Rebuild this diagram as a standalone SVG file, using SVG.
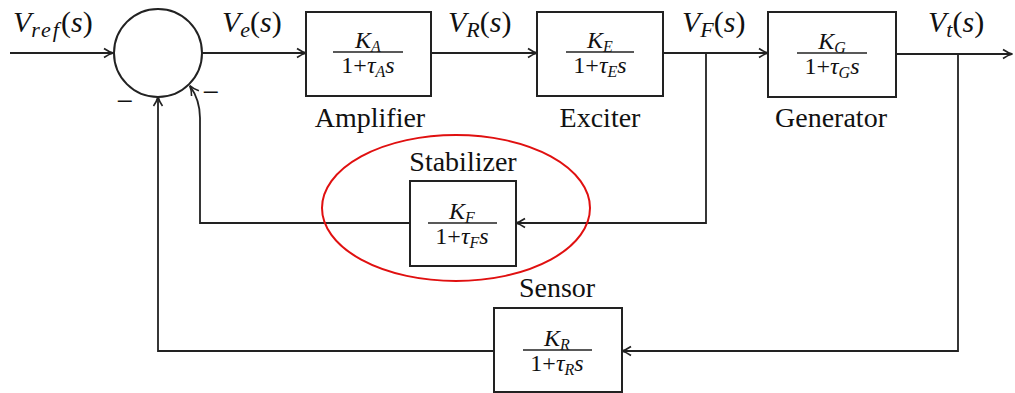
<svg xmlns="http://www.w3.org/2000/svg" width="1015" height="393" viewBox="0 0 1015 393" font-family="Liberation Serif, DejaVu Serif, serif">
<style>
.box{fill:#fff;stroke:#222;stroke-width:2}
.ln{fill:none;stroke:#222;stroke-width:1.8}
text{fill:#111}
.lbl{font-size:28px;text-anchor:middle}
.sig{font-size:30px}
.frac{font-size:24px;text-anchor:middle}
.i{font-style:italic}
.sub{font-size:16px;font-style:italic}
.ss{font-size:22px;font-style:italic}
.fl{stroke:#222;stroke-width:1.4}
</style>
<defs>
<marker id="ar" markerWidth="12" markerHeight="12" refX="10" refY="6" orient="auto" markerUnits="userSpaceOnUse">
<path d="M1,1.5 Q6,5 10.5,6 Q6,7 1,10.5" fill="none" stroke="#222" stroke-width="1.6"/>
</marker>
</defs>
<rect width="1015" height="393" fill="#fff"/>

<g id="connectors">
<line class="ln" x1="10" y1="53" x2="113" y2="53" marker-end="url(#ar)"/>
<line class="ln" x1="202" y1="53" x2="306" y2="53" marker-end="url(#ar)"/>
<line class="ln" x1="431" y1="53" x2="537" y2="53" marker-end="url(#ar)"/>
<line class="ln" x1="663" y1="53" x2="768" y2="53" marker-end="url(#ar)"/>
<line class="ln" x1="896" y1="54" x2="1012" y2="54" marker-end="url(#ar)"/>
<polyline class="ln" points="706,53 706,223 516,223" marker-end="url(#ar)"/>
<path class="ln" d="M410,223 L200,223 L200,118 Q200,100 190,86" marker-end="url(#ar)"/>
<polyline class="ln" points="958,54 958,351 622,351" marker-end="url(#ar)"/>
<polyline class="ln" points="494,351 158,351 158,97" marker-end="url(#ar)"/>
</g>

<g id="sum">
<circle cx="158" cy="53" r="44" fill="#fff" stroke="#222" stroke-width="2"/>
<text x="125" y="111" font-size="30" text-anchor="middle">−</text>
<text x="211" y="102" font-size="30" text-anchor="middle">−</text>
</g>

<g id="signals">
<text class="sig" x="13" y="32"><tspan class="i">V</tspan><tspan class="ss" dy="5" letter-spacing="2">ref</tspan><tspan dy="-5">(</tspan><tspan class="i">s</tspan><tspan>)</tspan></text>
<text class="sig" x="222" y="32"><tspan class="i">V</tspan><tspan class="ss" dy="5">e</tspan><tspan dy="-5">(</tspan><tspan class="i">s</tspan><tspan>)</tspan></text>
<text class="sig" x="448" y="32"><tspan class="i">V</tspan><tspan class="ss" dy="5">R</tspan><tspan dy="-5">(</tspan><tspan class="i">s</tspan><tspan>)</tspan></text>
<text class="sig" x="682" y="32"><tspan class="i">V</tspan><tspan class="ss" dy="5">F</tspan><tspan dy="-5">(</tspan><tspan class="i">s</tspan><tspan>)</tspan></text>
<text class="sig" x="928" y="32"><tspan class="i">V</tspan><tspan class="ss" dy="5">t</tspan><tspan dy="-5">(</tspan><tspan class="i">s</tspan><tspan>)</tspan></text>
</g>

<g id="amplifier">
<rect class="box" x="306" y="12" width="125" height="84"/>
<text class="frac" x="368" y="48"><tspan class="i">K</tspan><tspan class="sub" dy="4">A</tspan></text>
<line class="fl" x1="333" y1="52" x2="403" y2="52"/>
<text class="frac" x="368" y="73"><tspan>1+</tspan><tspan class="i">τ</tspan><tspan class="sub" dy="4">A</tspan><tspan class="i" dy="-4">s</tspan></text>
<text class="lbl" x="370" y="127">Amplifier</text>
</g>

<g id="exciter">
<rect class="box" x="537" y="12" width="126" height="84"/>
<text class="frac" x="600" y="48"><tspan class="i">K</tspan><tspan class="sub" dy="4">E</tspan></text>
<line class="fl" x1="566" y1="52" x2="634" y2="52"/>
<text class="frac" x="600" y="73"><tspan>1+</tspan><tspan class="i">τ</tspan><tspan class="sub" dy="4">E</tspan><tspan class="i" dy="-4">s</tspan></text>
<text class="lbl" x="600" y="127">Exciter</text>
</g>

<g id="generator">
<rect class="box" x="768" y="12" width="128" height="85"/>
<text class="frac" x="832" y="49"><tspan class="i">K</tspan><tspan class="sub" dy="4">G</tspan></text>
<line class="fl" x1="797" y1="53" x2="867" y2="53"/>
<text class="frac" x="832" y="74"><tspan>1+</tspan><tspan class="i">τ</tspan><tspan class="sub" dy="4">G</tspan><tspan class="i" dy="-4">s</tspan></text>
<text class="lbl" x="831" y="127">Generator</text>
</g>

<g id="stabilizer">
<rect class="box" x="410" y="181" width="106" height="85"/>
<text class="frac" x="462" y="219"><tspan class="i">K</tspan><tspan class="sub" dy="4">F</tspan></text>
<line class="fl" x1="428" y1="223" x2="497" y2="223"/>
<text class="frac" x="462" y="244"><tspan>1+</tspan><tspan class="i">τ</tspan><tspan class="sub" dy="4">F</tspan><tspan class="i" dy="-4">s</tspan></text>
<text class="lbl" x="463" y="171">Stabilizer</text>
</g>

<g id="sensor">
<rect class="box" x="494" y="308" width="128" height="84"/>
<text class="frac" x="557" y="346"><tspan class="i">K</tspan><tspan class="sub" dy="4">R</tspan></text>
<line class="fl" x1="523" y1="350" x2="592" y2="350"/>
<text class="frac" x="557" y="371"><tspan>1+</tspan><tspan class="i">τ</tspan><tspan class="sub" dy="4">R</tspan><tspan class="i" dy="-4">s</tspan></text>
<text class="lbl" x="557" y="297">Sensor</text>
</g>

<g id="highlight">
<ellipse cx="456" cy="208" rx="134" ry="73" fill="none" stroke="#e01010" stroke-width="2"/>
</g>
</svg>
